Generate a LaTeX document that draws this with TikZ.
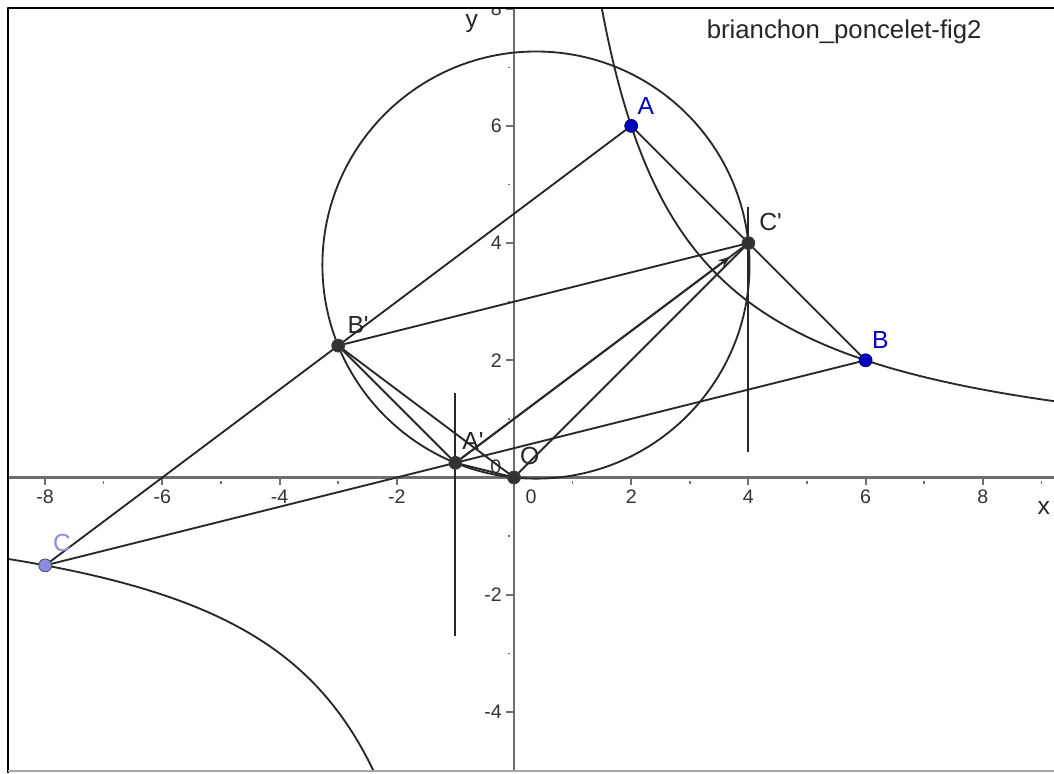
\documentclass[tikz,border=0pt]{standalone}
\usepackage{fontspec}
\setmainfont{Liberation Sans}
\usetikzlibrary{arrows.meta}
\definecolor{ggblue}{RGB}{0, 0, 190}
\definecolor{gglilac}{RGB}{140, 140, 225}
\definecolor{ggline}{RGB}{40, 40, 40}
\definecolor{ggdark}{RGB}{50, 50, 50}
\definecolor{gggray}{RGB}{110, 110, 110}

\begin{document}
\begin{tikzpicture}[line join=round,
    seg/.style={draw=ggline, line width=0.9pt},
    axisline/.style={draw=gggray, line width=1pt},
    dot/.style={circle, draw=black!75, fill=ggdark, line width=0.4pt, inner sep=0pt, minimum size=0.22cm},
    bluedot/.style={dot, fill=ggblue, draw=ggblue!60!black},
    lilacdot/.style={dot, fill=gglilac, draw=black!70},
    ptlabel/.style={font=\fontsize{12}{14}\selectfont, inner sep=0pt, text=black!85},
    ticklabel/.style={font=\fontsize{9.5}{11}\selectfont, inner sep=0pt, text=black!80}
]

    \useasboundingbox (-8.771,-5.043) rectangle (9.215,8.148);

    % triangle, midpoints, centre
    \coordinate (A) at (2,6);
    \coordinate (B) at (6,2);
    \coordinate (C) at (-8,-1.5);
    \coordinate (Ap) at (-1,0.25);
    \coordinate (Bp) at (-3,2.25);
    \coordinate (Cp) at (4,4);
    \coordinate (O) at (0,0);
    \coordinate (N) at (0.375,3.625);
    \coordinate (vC1) at (4,4.62);
    \coordinate (vC2) at (4,0.44);
    \coordinate (vA1) at (-1,1.45);
    \coordinate (vA2) at (-1,-2.71);

    \begin{scope}
    \clip (-8.635,-5.009) rectangle (9.215,8.012);

    % axes
    \draw[axisline] (-8.8,0) -- (9.3,0);
    \draw[axisline] (0,-5.1) -- (0,8.2);
    \foreach \x in {-8,-6,-4,-2,2,4,6,8} {
        \draw[axisline] (\x,0) -- (\x,-0.13);
        \node[ticklabel] (xl\x) at (\x,-0.33) {\x};
    }
    \foreach \x in {-7,-5,...,9}
        \draw[axisline, line width=0.7pt] (\x,-0.06) -- (\x,-0.11);
    \foreach \y in {-4,-2,2,4,6,8} {
        \draw[axisline] (0,\y) -- (-0.13,\y);
        \node[ticklabel, anchor=east] (yl\y) at (-0.2,\y) {\y};
    }
    \foreach \y in {-5,-3,...,7}
        \draw[axisline, line width=0.7pt] (-0.06,\y) -- (-0.11,\y);
    \node[ticklabel] (y0) at (-0.31,0.18) {0};
    \node[ticklabel] (x0) at (0.29,-0.33) {0};
    \node[ptlabel] (xname) at (9.04,-0.52) {x};
    \node[ptlabel] (yname) at (-0.72,7.74) {y};

    % nine-point circle and hyperbola xy=12
    \draw[seg] (N) circle[radius=3.6443];
    \draw[seg] plot[domain=1.45:9.3, samples=120, smooth] (\x,{12/\x});
    \draw[seg] plot[domain=-8.7:-2.3, samples=120, smooth] (\x,{12/\x});

    % segments
    \draw[seg] (A) -- (B);
    \draw[seg] (B) -- (C);
    \draw[seg] (C) -- (A);
    \draw[seg] (Bp) -- (Cp);
    \draw[seg] (Bp) -- (Ap);
    \draw[seg] (Bp) -- (O);
    \draw[seg] (Ap) -- (O);
    \draw[seg] (O) -- (Cp);
    \draw[seg] (Ap) -- (Cp);
    \draw[seg, -{Stealth[length=2mm, width=1.5mm]}, shorten >=0.39cm] (Ap) -- (Cp);
    \draw[seg] (vC1) -- (vC2);
    \draw[seg] (vA1) -- (vA2);

    % points
    \node[bluedot] (dA) at (A) {};
    \node[bluedot] (dB) at (B) {};
    \node[lilacdot] (dC) at (C) {};
    \node[dot] (dAp) at (Ap) {};
    \node[dot] (dBp) at (Bp) {};
    \node[dot] (dCp) at (Cp) {};
    \node[dot] (dO) at (O) {};

    % labels
    \node[ptlabel, text=ggblue] (lA) at (2.25,6.34) {A};
    \node[ptlabel, text=ggblue] (lB) at (6.25,2.35) {B};
    \node[ptlabel, text=gglilac] (lC) at (-7.71,-1.12) {C};
    \node[ptlabel] (lCp) at (4.38,4.36) {C\textquotesingle};
    \node[ptlabel] (lBp) at (-2.66,2.60) {B\textquotesingle};
    \node[ptlabel] (lAp) at (-0.70,0.62) {A\textquotesingle};
    \node[ptlabel] (lO) at (0.27,0.37) {O};

    \node[font=\fontsize{12.5}{14}\selectfont, anchor=base, inner sep=0pt, text=black!85] (title) at (5.635,7.495) {brianchon\_poncelet-fig2};
    \end{scope}

    % frame
    \draw[black, line width=1.2pt] (-8.635,-5.043) -- (-8.635,8.012) -- (9.215,8.012);
    \draw[black!35, line width=0.6pt] (-8.635,-5.009) -- (9.215,-5.009);

\end{tikzpicture}
\end{document}
